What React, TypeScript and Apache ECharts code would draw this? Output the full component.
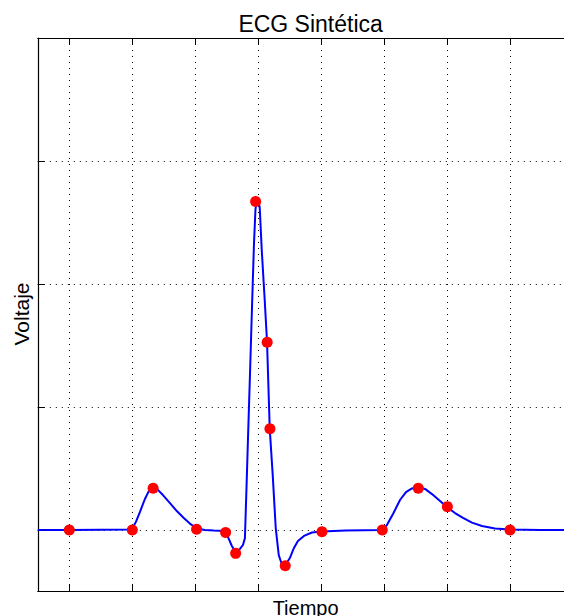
import React, { useEffect, useRef } from "react";
import * as echarts from "echarts";

// Time ticks (s) and voltage ticks
const xTicks = [0, 0.1, 0.2, 0.3, 0.4, 0.5, 0.6, 0.7, 0.8];
const yTicks = [0, 0.5, 1.0, 1.5];

// Continuous ECG trace: [time, voltage]
const traceT = [
  -0.05, 0.0, 0.099, 0.1057, 0.112, 0.12, 0.1263, 0.1327, 0.139, 0.1486, 0.1594, 0.1706, 0.1817, 0.1913, 0.2025,
  0.215, 0.2295, 0.2454, 0.2517, 0.258, 0.2644, 0.2708, 0.2756, 0.2787, 0.2811, 0.2835, 0.2867, 0.2898, 0.293,
  0.2954, 0.2978, 0.3002, 0.3022, 0.3054, 0.3101, 0.3138, 0.3181, 0.3228, 0.3276, 0.3324, 0.3371, 0.3419, 0.35,
  0.3565, 0.3628, 0.3724, 0.3851, 0.401, 0.4387, 0.4967, 0.504, 0.5137, 0.5248, 0.5343, 0.5438, 0.5533, 0.5645,
  0.5756, 0.5883, 0.5994, 0.6121, 0.6248, 0.639, 0.6549, 0.6756, 0.6994, 0.7468, 0.8,
];
const traceV = [
  0, 0, 0.002, 0.033, 0.073, 0.126, 0.159, 0.173, 0.167, 0.142, 0.11, 0.077, 0.049, 0.026, 0.006,
  0.0, -0.002, -0.004, -0.028, -0.065, -0.093, -0.077, -0.061, -0.033, 0.163, 0.366, 0.63, 0.894, 1.159,
  1.301, 1.35, 1.341, 1.31, 1.138, 0.935, 0.764, 0.411, 0.224, 0.008, -0.102, -0.138, -0.146, -0.114,
  -0.073, -0.045, -0.024, -0.01, -0.006, -0.002, 0, 0.02, 0.065, 0.122, 0.154, 0.169, 0.175, 0.167,
  0.146, 0.118, 0.093, 0.069, 0.049, 0.03, 0.016, 0.006, 0.002, 0, 0,
];

// Red sample points
const pointT = [0, 0.1, 0.133, 0.202, 0.248, 0.264, 0.2957, 0.314, 0.3184, 0.3427, 0.401, 0.4967, 0.5538, 0.6, 0.6994];
const pointV = [0, 0, 0.17, 0.003, -0.01, -0.095, 1.335, 0.763, 0.412, -0.145, -0.007, 0, 0.17, 0.095, 0];

const titleText = "ECG Sintética";
const xName = "Tiempo";
const yName = "Voltaje";

export default function App() {
  const ref = useRef<HTMLDivElement>(null);
  useEffect(() => {
    if (!ref.current) return;
    const chart = echarts.init(ref.current, null, { renderer: "svg" });
    const font = "'Liberation Sans', Arial, Helvetica, sans-serif";
    const tick = { show: true, inside: true, length: 7, lineStyle: { color: "#000", width: 1 }, customValues: xTicks };
    const ytick = { show: true, inside: true, length: 7, lineStyle: { color: "#000", width: 1 }, customValues: yTicks };
    const axisLine = { show: true, onZero: false, lineStyle: { color: "#000", width: 1.2 } };
    const split = { show: true, lineStyle: { color: "#000", width: 1, type: [1, 5] as any } };
    chart.setOption({
      animation: false,
      backgroundColor: "#fff",
      title: {
        text: titleText,
        left: 305.6,
        textAlign: "center",
        top: 7,
        textStyle: { fontFamily: font, fontSize: 23, fontWeight: "normal", color: "#000" },
      },
      grid: { left: 37.8, top: 38, width: 535.6, height: 553.5 },
      xAxis: [
        {
          type: "value",
          min: -0.05,
          max: 0.8,
          position: "bottom",
          axisLine,
          axisTick: tick,
          axisLabel: { show: false, customValues: xTicks },
          splitLine: split,
          name: xName,
          nameLocation: "middle",
          nameGap: 6,
          nameTextStyle: { fontFamily: font, fontSize: 20, color: "#000", verticalAlign: "top" },
        },
        {
          type: "value",
          min: -0.05,
          max: 0.8,
          position: "top",
          axisLine,
          axisTick: tick,
          axisLabel: { show: false, customValues: xTicks },
          splitLine: { show: false },
        },
      ],
      yAxis: [
        {
          type: "value",
          min: -0.25,
          max: 2.0,
          position: "left",
          axisLine,
          axisTick: ytick,
          axisLabel: { show: false, customValues: yTicks },
          splitLine: split,
        },
        {
          type: "value",
          min: -0.25,
          max: 2.0,
          position: "right",
          axisLine,
          axisTick: ytick,
          axisLabel: { show: false, customValues: yTicks },
          splitLine: { show: false },
        },
      ],
      graphic: [
        {
          type: "text",
          x: 21,
          y: 314,
          rotation: Math.PI / 2,
          style: {
            text: yName,
            fontFamily: font,
            fontSize: 21,
            fill: "#000",
            align: "center",
            verticalAlign: "middle",
          },
        },
      ],
      series: [
        {
          type: "line",
          data: traceT.map((t, i) => [t, traceV[i]]),
          showSymbol: false,
          symbol: "none",
          lineStyle: { color: "#0000ff", width: 2 },
          itemStyle: { color: "#0000ff" },
          z: 2,
          silent: true,
        },
        {
          type: "scatter",
          data: pointT.map((t, i) => [t, pointV[i]]),
          symbol: "circle",
          symbolSize: 11,
          itemStyle: { color: "#ff0000", opacity: 1 },
          z: 3,
        },
      ],
    });
    return () => chart.dispose();
  }, []);
  return (
    <div style={{ position: "fixed", left: 0, top: 0, width: 564, height: 616, overflow: "hidden", background: "#fff" }}>
      <div ref={ref} style={{ position: "absolute", left: 0, top: 0, width: 640, height: 660 }} />
    </div>
  );
}
